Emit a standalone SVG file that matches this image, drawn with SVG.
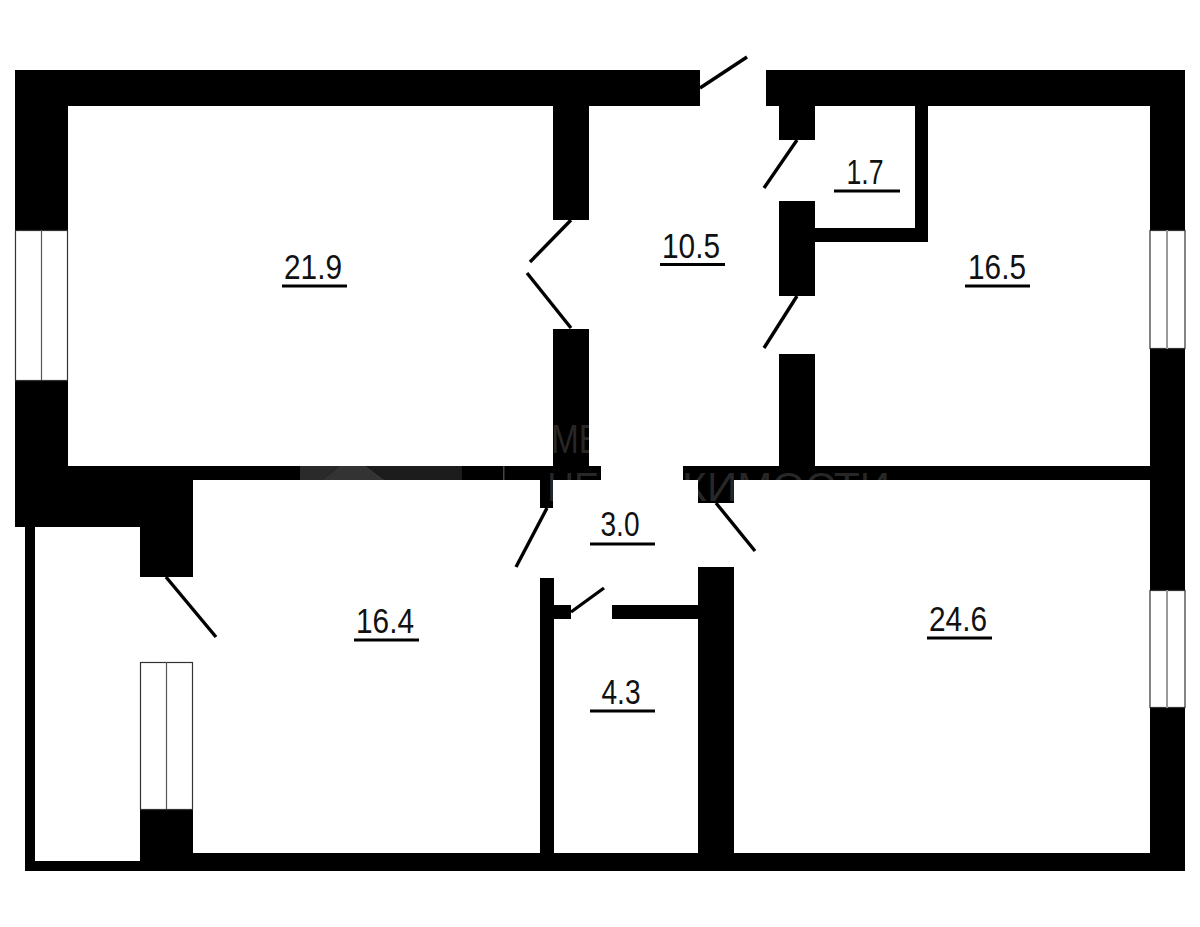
<svg xmlns="http://www.w3.org/2000/svg" width="1200" height="927" viewBox="0 0 1200 927">
<style>
.w{fill:#000}
.d{stroke:#000;stroke-width:3.4;fill:none}
.win{fill:#fff;stroke:#333;stroke-width:1.2}
.m{stroke:#555;stroke-width:1.2;fill:none}
.m2{stroke:#999;stroke-width:2;fill:none}
.u{stroke:#000;stroke-width:3;fill:none}
.t{font-family:"Liberation Sans",Arial,sans-serif;font-size:35px;fill:#111;text-anchor:middle}
.wm{font-family:"Liberation Sans",Arial,sans-serif;font-size:41px;fill:#fff;fill-opacity:.17}
</style>
<rect width="1200" height="927" fill="#fff"/>
<g id="walls">
<rect class="w" x="15" y="70" width="685" height="36"/>
<rect class="w" x="766" y="70" width="419" height="36"/>
<rect class="w" x="15" y="70" width="53" height="160"/>
<rect class="w" x="15" y="380" width="53" height="147"/>
<rect class="w" x="15" y="466" width="586" height="14"/>
<rect class="w" x="15" y="480" width="178" height="47"/>
<rect class="w" x="140" y="480" width="53" height="97"/>
<rect class="w" x="25" y="527" width="10" height="344"/>
<rect class="w" x="25" y="861" width="120" height="10"/>
<rect class="w" x="140" y="809" width="53" height="62"/>
<rect class="w" x="193" y="853" width="992" height="18"/>
<rect class="w" x="1150" y="70" width="35" height="160"/>
<rect class="w" x="1150" y="349" width="35" height="241"/>
<rect class="w" x="1150" y="708" width="35" height="163"/>
<rect class="w" x="553" y="106" width="36" height="114"/>
<rect class="w" x="553" y="329" width="36" height="137"/>
<rect class="w" x="540" y="480" width="13" height="28"/>
<rect class="w" x="540" y="578" width="14" height="275"/>
<rect class="w" x="554" y="605" width="17" height="14"/>
<rect class="w" x="612" y="605" width="86" height="14"/>
<rect class="w" x="698" y="567" width="36" height="286"/>
<rect class="w" x="683" y="466" width="467" height="14"/>
<rect class="w" x="698" y="480" width="36" height="23"/>
<rect class="w" x="779" y="354" width="36" height="112"/>
<rect class="w" x="779" y="201" width="36" height="95"/>
<rect class="w" x="779" y="106" width="36" height="34"/>
<rect class="w" x="815" y="228" width="113" height="14"/>
<rect class="w" x="915" y="106" width="13" height="136"/>
</g>
<g id="watermark">
<path d="M300 466H340L322 480H300Z" fill="#2a2a2a"/>
<path d="M340 466H366L385 480H322Z" fill="#333"/>
<path d="M366 466H462V480H385Z" fill="#1c1c1c"/>
<rect x="503" y="466" width="1.500" height="14" fill="#444"/>
<text class="wm" x="551" y="453" textLength="50" lengthAdjust="spacingAndGlyphs">МЕ</text>
<text class="wm" x="547" y="501" textLength="52" lengthAdjust="spacingAndGlyphs">НЕ</text>
<text class="wm" x="668" y="501" textLength="222" lengthAdjust="spacingAndGlyphs">ЖИМОСТИ</text>
</g>
<g id="windows">
<rect class="win" x="15.5" y="230.5" width="52" height="150"/>
<path class="m" d="M41.5 230V380"/>
<rect class="win" x="1150" y="230.5" width="35" height="118"/>
<path class="m2" d="M1167 230V349"/>
<rect class="win" x="1150" y="590.5" width="35" height="117"/>
<path class="m2" d="M1167 590V708"/>
<rect class="win" x="140.5" y="662.5" width="52" height="147"/>
<path class="m" d="M166.5 662V809"/>
</g>
<g id="connectors">
<path class="d" d="M700 88L747 57"/>
<path class="d" d="M571 220L530 262"/>
<path class="d" d="M527 273L571 328"/>
<path class="d" d="M797 140L764 188"/>
<path class="d" d="M797 296L764 348"/>
<path class="d" d="M547 508L516 567"/>
<path class="d" d="M716 503L755 551"/>
<path class="d" d="M571 612L604 588"/>
<path class="d" d="M166 577L216 637"/>
</g>
<g id="room-21-9"><text class="t" x="313" y="279" textLength="58" lengthAdjust="spacingAndGlyphs">21.9</text><path class="u" d="M282 286H347"/></g>
<g id="room-10-5"><text class="t" x="691" y="258" textLength="58" lengthAdjust="spacingAndGlyphs">10.5</text><path class="u" d="M660 264.500H725"/></g>
<g id="room-1-7"><text class="t" x="865" y="184" textLength="37" lengthAdjust="spacingAndGlyphs">1.7</text><path class="u" d="M834 191H900"/></g>
<g id="room-16-5"><text class="t" x="997" y="279" textLength="58" lengthAdjust="spacingAndGlyphs">16.5</text><path class="u" d="M965 286H1030"/></g>
<g id="room-3-0"><text class="t" x="620" y="536" textLength="39" lengthAdjust="spacingAndGlyphs">3.0</text><path class="u" d="M590 544H655"/></g>
<g id="room-16-4"><text class="t" x="385" y="633" textLength="58" lengthAdjust="spacingAndGlyphs">16.4</text><path class="u" d="M354 640H419"/></g>
<g id="room-24-6"><text class="t" x="958" y="631" textLength="58" lengthAdjust="spacingAndGlyphs">24.6</text><path class="u" d="M927 638H992"/></g>
<g id="room-4-3"><text class="t" x="621" y="704" textLength="39" lengthAdjust="spacingAndGlyphs">4.3</text><path class="u" d="M590 711H655"/></g>
</svg>
